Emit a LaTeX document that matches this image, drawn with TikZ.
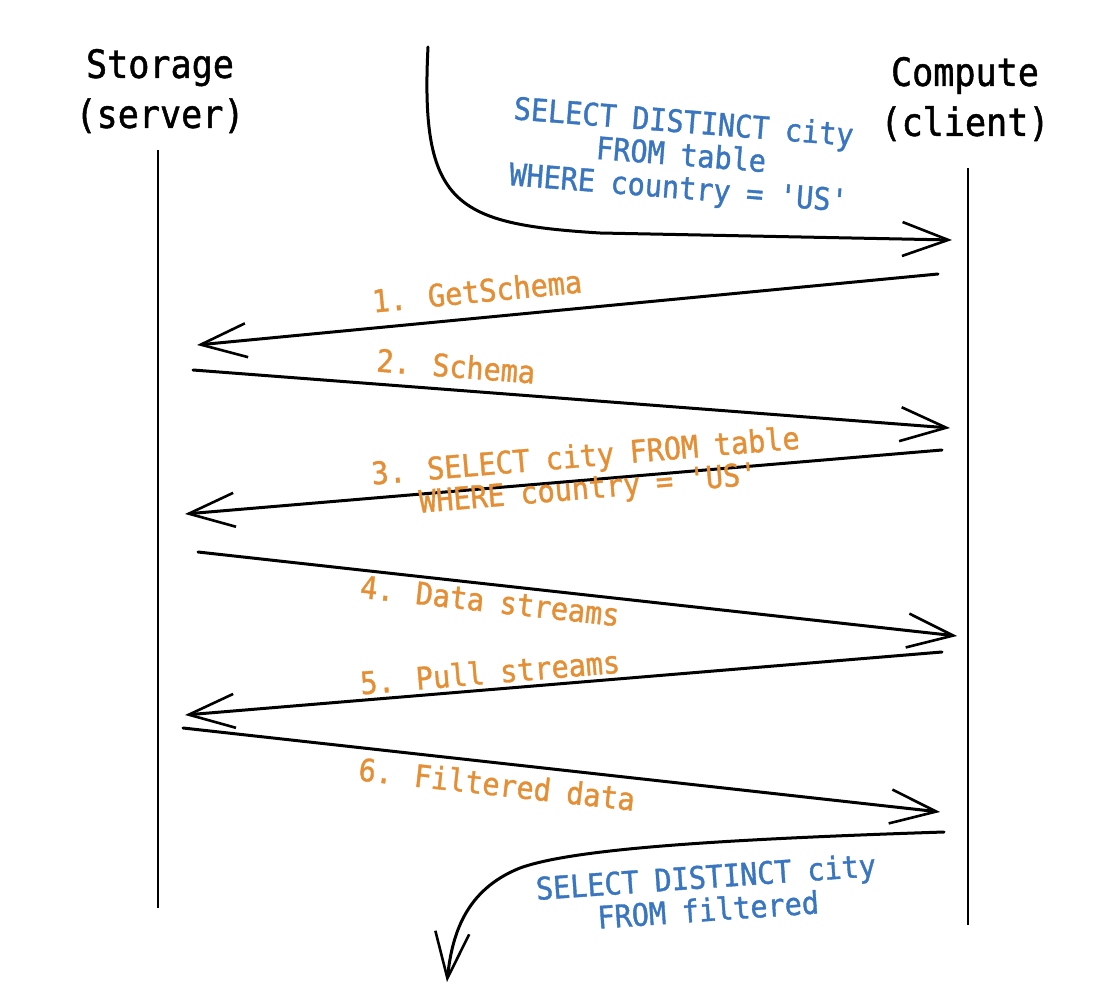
\documentclass[tikz,border=0pt]{standalone}
\usepackage{fontspec}
\newfontfamily\handfont[FakeStretch=0.92,WordSpace=0.92,FakeBold=1.2]{DejaVu Sans Mono}
\newfontfamily\titlefont[FakeStretch=0.9,WordSpace=0.9,FakeBold=1.2]{DejaVu Sans Mono}
\usetikzlibrary{arrows.meta}
\definecolor{sqlblue}{HTML}{3A76C0}
\definecolor{msgorange}{HTML}{E48F35}
\tikzset{
  title/.style={font=\titlefont\fontsize{39}{50}\selectfont, align=center, text=black, inner sep=0pt},
  sqltext/.style={font=\handfont\fontsize{31}{33}\selectfont, align=center, text=sqlblue, inner sep=0pt},
  msgtext/.style={font=\handfont\fontsize{31}{32}\selectfont, align=center, text=msgorange, inner sep=0pt},
  lifeline/.style={draw=black, line width=2.2pt},
  msg/.style={draw=black, line width=3pt, line cap=round,
    -{Straight Barb[length=46pt,width=34pt,line width=2.6pt]}},
}
\begin{document}
\begin{tikzpicture}[x=1pt,y=-1pt]
\useasboundingbox (0,0) rectangle (1120,1008);
% participants
\node[title] (storage) at (160,91) {Storage\\(server)};
\node[title] (compute) at (965,99) {Compute\\(client)};
% lifelines
\coordinate (sTop) at (158,150);
\coordinate (sBot) at (158,908);
\coordinate (cTop) at (968,168);
\coordinate (cBot) at (968,925);
\draw[lifeline] (sTop) -- (sBot);
\draw[lifeline] (cTop) -- (cBot);
% incoming query
\coordinate (q0) at (428,47);
\coordinate (q1) at (952,240);
\draw[msg] (q0) .. controls (420,205) and (455,224) .. (600,233) -- (q1);
\node[sqltext, rotate=-4.5] (query) at (681,157) {SELECT DISTINCT city\\FROM table\\WHERE country = 'US'};
% messages
\coordinate (a1s) at (938,274); \coordinate (a1e) at (197,345);
\coordinate (a2s) at (193,370); \coordinate (a2e) at (950,428);
\coordinate (a3s) at (942,450); \coordinate (a3e) at (185,514);
\coordinate (a4s) at (198,552); \coordinate (a4e) at (957,636);
\coordinate (a5s) at (942,652); \coordinate (a5e) at (185,715);
\coordinate (a6s) at (183,728); \coordinate (a6e) at (940,812);
\draw[msg] (a1s) -- (a1e);
\draw[msg] (a2s) -- (a2e);
\draw[msg] (a3s) -- (a3e);
\draw[msg] (a4s) -- (a4e);
\draw[msg] (a5s) -- (a5e);
\draw[msg] (a6s) -- (a6e);
\node[msgtext, rotate=5.5] (m1) at (477,291) {1. GetSchema};
\node[msgtext, rotate=-4.4] (m2) at (456,366) {2. Schema};
\node[msgtext, rotate=4.8] (m3) at (587,474) {3. SELECT city FROM table\\WHERE country = 'US'};
\node[msgtext, rotate=-6.3] (m4) at (490,601) {4. Data streams};
\node[msgtext, rotate=4.8] (m5) at (490,672) {5. Pull streams};
\node[msgtext, rotate=-6.3] (m6) at (497,784) {6. Filtered data};
% outgoing query
\coordinate (r0) at (944,832);
\coordinate (r1) at (447,982);
\draw[msg] (r0) .. controls (700,840) and (570,850) .. (520,868) .. controls (465,890) and (452,935) .. (r1);
\node[sqltext, rotate=4] (final) at (707,893) {SELECT DISTINCT city\\FROM filtered};
\end{tikzpicture}
\end{document}
